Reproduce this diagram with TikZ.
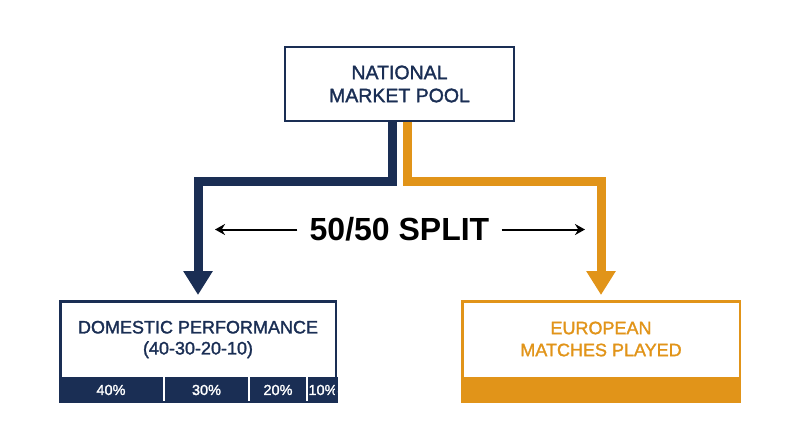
\documentclass[tikz,border=0pt]{standalone}
\usepackage{fontspec}
\setmainfont{Liberation Sans}
\newfontfamily\medfont{Liberation Sans}[FakeBold=1.6]
\usetikzlibrary{arrows.meta}
\definecolor{navy}{RGB}{26,46,84}
\definecolor{gold}{RGB}{225,148,25}
\begin{document}
\begin{tikzpicture}[x=1pt,y=1pt,
  boxframe/.style={draw=#1, line width=2.5pt, inner sep=0pt},
  barseg/.style={fill=#1, inner sep=0pt, minimum height=26pt, text=white,
    font=\medfont\fontsize{14.5}{16}\selectfont},
  label/.style={align=center, inner sep=0pt, text=#1},
  branch/.style={draw=#1, line width=9pt, line join=miter,
    -{Triangle[length=24pt,width=28pt]}},
  splitarrow/.style={draw=black, line width=2pt, -{Stealth[length=10pt,width=11pt]}}
]
\useasboundingbox (0,0) rectangle (800,-447);

% bars
\node[barseg=navy, minimum width=104pt] (b40) at (111,-390) {40\%};
\node[barseg=navy, minimum width=83pt] (b30) at (206.5,-390) {30\%};
\node[barseg=navy, minimum width=56pt] (b20) at (278,-390) {20\%};
\node[barseg=navy, minimum width=28pt] (b10) at (323,-390) {10\%};
\node[barseg=gold, minimum width=280pt] (bgold) at (601,-390) {};

% boxes
\node[boxframe=navy, minimum width=229pt, minimum height=74pt] (top) at (399.5,-84) {};
\node[boxframe=navy, minimum width=275.5pt, minimum height=100.5pt] (dom) at (198,-351.5) {};
\node[boxframe=gold, minimum width=277.5pt, minimum height=100.5pt] (eur) at (601,-351.5) {};

% texts
\node[label=navy, font=\medfont\fontsize{19.5}{23}\selectfont] (toptext) at (399.5,-84) {NATIONAL\\MARKET POOL};
\node[label=navy, font=\medfont\fontsize{18}{21}\selectfont] (domtext) at (198,-339.5) {DOMESTIC PERFORMANCE\\(40-30-20-10)};
\node[label=gold, font=\medfont\fontsize{18}{22}\selectfont] (eurtext) at (601,-339) {EUROPEAN\\MATCHES PLAYED};

% branches
\coordinate (fork) at (399.5,-181);
\coordinate (navystart) at ([xshift=-7.5pt]top.south);
\coordinate (goldstart) at ([xshift=7.5pt]top.south);
\draw[branch=navy] (navystart) -- (navystart |- fork) -- (dom.north |- fork) -- ([yshift=5pt]dom.north);
\draw[branch=gold] (goldstart) -- (goldstart |- fork) -- (eur.north |- fork) -- ([yshift=5pt]eur.north);

% split label
\node[font=\fontsize{32}{36}\selectfont\bfseries, inner xsep=12pt, inner ysep=0pt] (split) at (399.5,-229.5) {50/50 SPLIT};
\coordinate (lt) at (215,-229.5);
\coordinate (rt) at (585,-229.5);
\draw[splitarrow] (split.west) -- (lt);
\draw[splitarrow] (split.east) -- (rt);
\end{tikzpicture}
\end{document}
